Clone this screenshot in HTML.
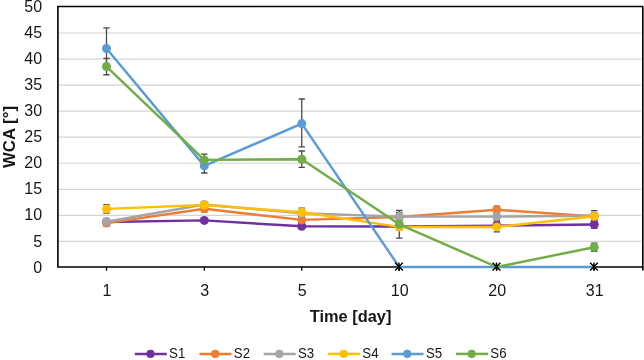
<!DOCTYPE html><html><head><meta charset="utf-8"><style>html,body{margin:0;padding:0;background:#fff}svg{display:block;opacity:.999;will-change:transform}text{font-family:"Liberation Sans",sans-serif;fill:#161616}</style></head><body>
<svg width="644" height="360" viewBox="0 0 644 360">
<rect width="644" height="360" fill="#fff"/>
<line x1="58" y1="241.4" x2="641" y2="241.4" stroke="#D4D4D4" stroke-width="1.2"/>
<line x1="58" y1="215.35" x2="641" y2="215.35" stroke="#D4D4D4" stroke-width="1.2"/>
<line x1="58" y1="189.3" x2="641" y2="189.3" stroke="#D4D4D4" stroke-width="1.2"/>
<line x1="58" y1="163.25" x2="641" y2="163.25" stroke="#D4D4D4" stroke-width="1.2"/>
<line x1="58" y1="137.2" x2="641" y2="137.2" stroke="#D4D4D4" stroke-width="1.2"/>
<line x1="58" y1="111.15" x2="641" y2="111.15" stroke="#D4D4D4" stroke-width="1.2"/>
<line x1="58" y1="85.1" x2="641" y2="85.1" stroke="#D4D4D4" stroke-width="1.2"/>
<line x1="58" y1="59.05" x2="641" y2="59.05" stroke="#D4D4D4" stroke-width="1.2"/>
<line x1="58" y1="33.0" x2="641" y2="33.0" stroke="#D4D4D4" stroke-width="1.2"/>
<path d="M57.9 267.0 V6.5 H642.8 V270.4" fill="none" stroke="#000" stroke-width="1.6"/>
<line x1="57.2" y1="267.0" x2="643.3" y2="267.0" stroke="#000" stroke-width="1.6"/>
<line x1="106.5" y1="267.0" x2="106.5" y2="270.8" stroke="#000" stroke-width="1.3"/>
<line x1="204.3" y1="267.0" x2="204.3" y2="270.8" stroke="#000" stroke-width="1.3"/>
<line x1="301.75" y1="267.0" x2="301.75" y2="270.8" stroke="#000" stroke-width="1.3"/>
<line x1="399.25" y1="267.0" x2="399.25" y2="270.8" stroke="#000" stroke-width="1.3"/>
<line x1="496.8" y1="267.0" x2="496.8" y2="270.8" stroke="#000" stroke-width="1.3"/>
<line x1="594.25" y1="267.0" x2="594.25" y2="270.8" stroke="#000" stroke-width="1.3"/>
<path d="M106.5 219.4 V224.6 M103.3 219.4 H109.7 M103.3 224.6 H109.7" fill="none" stroke="#4a4a4a" stroke-width="1.3"/>
<path d="M204.3 218.2 V222.6 M201.10000000000002 218.2 H207.5 M201.10000000000002 222.6 H207.5" fill="none" stroke="#4a4a4a" stroke-width="1.3"/>
<path d="M301.75 223.7 V228.9 M298.55 223.7 H304.95 M298.55 228.9 H304.95" fill="none" stroke="#4a4a4a" stroke-width="1.3"/>
<path d="M399.25 223.8 V229.0 M396.05 223.8 H402.45 M396.05 229.0 H402.45" fill="none" stroke="#4a4a4a" stroke-width="1.3"/>
<path d="M496.8 222.6 V228.6 M493.6 222.6 H500.0 M493.6 228.6 H500.0" fill="none" stroke="#4a4a4a" stroke-width="1.3"/>
<path d="M594.25 220.7 V228.3 M591.05 220.7 H597.45 M591.05 228.3 H597.45" fill="none" stroke="#4a4a4a" stroke-width="1.3"/>
<path d="M106.5 220.1 V226.1 M103.3 220.1 H109.7 M103.3 226.1 H109.7" fill="none" stroke="#4a4a4a" stroke-width="1.3"/>
<path d="M204.3 205.8 V211.8 M201.10000000000002 205.8 H207.5 M201.10000000000002 211.8 H207.5" fill="none" stroke="#4a4a4a" stroke-width="1.3"/>
<path d="M301.75 216.9 V222.9 M298.55 216.9 H304.95 M298.55 222.9 H304.95" fill="none" stroke="#4a4a4a" stroke-width="1.3"/>
<path d="M399.25 214.0 V220.0 M396.05 214.0 H402.45 M396.05 220.0 H402.45" fill="none" stroke="#4a4a4a" stroke-width="1.3"/>
<path d="M496.8 206.2 V213.4 M493.6 206.2 H500.0 M493.6 213.4 H500.0" fill="none" stroke="#4a4a4a" stroke-width="1.3"/>
<path d="M594.25 213.4 V219.4 M591.05 213.4 H597.45 M591.05 219.4 H597.45" fill="none" stroke="#4a4a4a" stroke-width="1.3"/>
<path d="M106.5 219.1 V224.3 M103.3 219.1 H109.7 M103.3 224.3 H109.7" fill="none" stroke="#4a4a4a" stroke-width="1.3"/>
<path d="M204.3 201.9 V207.1 M201.10000000000002 201.9 H207.5 M201.10000000000002 207.1 H207.5" fill="none" stroke="#4a4a4a" stroke-width="1.3"/>
<path d="M301.75 210.3 V216.3 M298.55 210.3 H304.95 M298.55 216.3 H304.95" fill="none" stroke="#4a4a4a" stroke-width="1.3"/>
<path d="M399.25 212.3 V220.9 M396.05 212.3 H402.45 M396.05 220.9 H402.45" fill="none" stroke="#4a4a4a" stroke-width="1.3"/>
<path d="M496.8 213.0 V220.2 M493.6 213.0 H500.0 M493.6 220.2 H500.0" fill="none" stroke="#4a4a4a" stroke-width="1.3"/>
<path d="M594.25 210.7 V220.7 M591.05 210.7 H597.45 M591.05 220.7 H597.45" fill="none" stroke="#4a4a4a" stroke-width="1.3"/>
<path d="M106.5 204.7 V213.1 M103.3 204.7 H109.7 M103.3 213.1 H109.7" fill="none" stroke="#4a4a4a" stroke-width="1.3"/>
<path d="M204.3 202.4 V207.6 M201.10000000000002 202.4 H207.5 M201.10000000000002 207.6 H207.5" fill="none" stroke="#4a4a4a" stroke-width="1.3"/>
<path d="M301.75 208.1 V216.5 M298.55 208.1 H304.95 M298.55 216.5 H304.95" fill="none" stroke="#4a4a4a" stroke-width="1.3"/>
<path d="M399.25 223.9 V229.9 M396.05 223.9 H402.45 M396.05 229.9 H402.45" fill="none" stroke="#4a4a4a" stroke-width="1.3"/>
<path d="M496.8 221.9 V231.9 M493.6 221.9 H500.0 M493.6 231.9 H500.0" fill="none" stroke="#4a4a4a" stroke-width="1.3"/>
<path d="M594.25 213.2 V219.2 M591.05 213.2 H597.45 M591.05 219.2 H597.45" fill="none" stroke="#4a4a4a" stroke-width="1.3"/>
<path d="M106.5 27.85 V69.05 M103.3 27.85 H109.7 M103.3 69.05 H109.7" fill="none" stroke="#4a4a4a" stroke-width="1.3"/>
<path d="M204.3 158.8 V173.0 M201.10000000000002 158.8 H207.5 M201.10000000000002 173.0 H207.5" fill="none" stroke="#4a4a4a" stroke-width="1.3"/>
<path d="M301.75 99.0 V146.9 M298.55 99.0 H304.95 M298.55 146.9 H304.95" fill="none" stroke="#4a4a4a" stroke-width="1.3"/>
<path d="M106.5 58.35 V74.75 M103.3 58.35 H109.7 M103.3 74.75 H109.7" fill="none" stroke="#4a4a4a" stroke-width="1.3"/>
<path d="M204.3 154.2 V165.6 M201.10000000000002 154.2 H207.5 M201.10000000000002 165.6 H207.5" fill="none" stroke="#4a4a4a" stroke-width="1.3"/>
<path d="M301.75 151.0 V167.4 M298.55 151.0 H304.95 M298.55 167.4 H304.95" fill="none" stroke="#4a4a4a" stroke-width="1.3"/>
<path d="M399.25 210.4 V238.2 M396.05 210.4 H402.45 M396.05 238.2 H402.45" fill="none" stroke="#4a4a4a" stroke-width="1.3"/>
<path d="M594.25 243.1 V251.3 M591.05 243.1 H597.45 M591.05 251.3 H597.45" fill="none" stroke="#4a4a4a" stroke-width="1.3"/>
<polyline points="106.5,222.0 204.3,220.4 301.75,226.3 399.25,226.4 496.8,225.6 594.25,224.5" fill="none" stroke="#7030A0" stroke-width="2.45" stroke-linejoin="round" stroke-linecap="round"/>
<circle cx="106.5" cy="222.0" r="4.5" fill="#7030A0"/>
<circle cx="204.3" cy="220.4" r="4.5" fill="#7030A0"/>
<circle cx="301.75" cy="226.3" r="4.5" fill="#7030A0"/>
<circle cx="399.25" cy="226.4" r="4.5" fill="#7030A0"/>
<circle cx="496.8" cy="225.6" r="4.5" fill="#7030A0"/>
<circle cx="594.25" cy="224.5" r="4.5" fill="#7030A0"/>
<polyline points="106.5,223.1 204.3,208.8 301.75,219.9 399.25,217.0 496.8,209.8 594.25,216.4" fill="none" stroke="#ED7D31" stroke-width="2.45" stroke-linejoin="round" stroke-linecap="round"/>
<circle cx="106.5" cy="223.1" r="4.5" fill="#ED7D31"/>
<circle cx="204.3" cy="208.8" r="4.5" fill="#ED7D31"/>
<circle cx="301.75" cy="219.9" r="4.5" fill="#ED7D31"/>
<circle cx="399.25" cy="217.0" r="4.5" fill="#ED7D31"/>
<circle cx="496.8" cy="209.8" r="4.5" fill="#ED7D31"/>
<circle cx="594.25" cy="216.4" r="4.5" fill="#ED7D31"/>
<polyline points="106.5,221.7 204.3,204.5 301.75,213.3 399.25,216.6 496.8,216.6 594.25,215.7" fill="none" stroke="#A5A5A5" stroke-width="2.45" stroke-linejoin="round" stroke-linecap="round"/>
<circle cx="106.5" cy="221.7" r="4.5" fill="#A5A5A5"/>
<circle cx="204.3" cy="204.5" r="4.5" fill="#A5A5A5"/>
<circle cx="301.75" cy="213.3" r="4.5" fill="#A5A5A5"/>
<circle cx="399.25" cy="216.6" r="4.5" fill="#A5A5A5"/>
<circle cx="496.8" cy="216.6" r="4.5" fill="#A5A5A5"/>
<circle cx="594.25" cy="215.7" r="4.5" fill="#A5A5A5"/>
<polyline points="106.5,208.9 204.3,205.0 301.75,212.3 399.25,226.9 496.8,226.9 594.25,216.2" fill="none" stroke="#FFC000" stroke-width="2.45" stroke-linejoin="round" stroke-linecap="round"/>
<circle cx="106.5" cy="208.9" r="4.5" fill="#FFC000"/>
<circle cx="204.3" cy="205.0" r="4.5" fill="#FFC000"/>
<circle cx="301.75" cy="212.3" r="4.5" fill="#FFC000"/>
<circle cx="399.25" cy="226.9" r="4.5" fill="#FFC000"/>
<circle cx="496.8" cy="226.9" r="4.5" fill="#FFC000"/>
<circle cx="594.25" cy="216.2" r="4.5" fill="#FFC000"/>
<polyline points="106.5,48.45 204.3,165.9 301.75,123.6 399.25,267.0 496.8,267.0 594.25,267.0" fill="none" stroke="#5B9BD5" stroke-width="2.45" stroke-linejoin="round" stroke-linecap="round"/>
<circle cx="106.5" cy="48.45" r="4.5" fill="#5B9BD5"/>
<circle cx="204.3" cy="165.9" r="4.5" fill="#5B9BD5"/>
<circle cx="301.75" cy="123.6" r="4.5" fill="#5B9BD5"/>
<polyline points="106.5,66.55 204.3,159.9 301.75,159.2 399.25,224.3 496.8,267.0 594.25,247.2" fill="none" stroke="#70AD47" stroke-width="2.45" stroke-linejoin="round" stroke-linecap="round"/>
<circle cx="106.5" cy="66.55" r="4.5" fill="#70AD47"/>
<circle cx="204.3" cy="159.9" r="4.5" fill="#70AD47"/>
<circle cx="301.75" cy="159.2" r="4.5" fill="#70AD47"/>
<circle cx="399.25" cy="224.3" r="4.5" fill="#70AD47"/>
<circle cx="594.25" cy="247.2" r="4.5" fill="#70AD47"/>
<path d="M395.05 262.8 L402.84999999999997 270.59999999999997 M395.05 270.59999999999997 L402.84999999999997 262.8 M398.95 262.6 V270.79999999999995" fill="none" stroke="#000" stroke-width="1.4"/>
<path d="M492.6 262.8 L500.4 270.59999999999997 M492.6 270.59999999999997 L500.4 262.8 M496.5 262.6 V270.79999999999995" fill="none" stroke="#000" stroke-width="1.4"/>
<path d="M590.0500000000001 262.8 L597.85 270.59999999999997 M590.0500000000001 270.59999999999997 L597.85 262.8 M593.95 262.6 V270.79999999999995" fill="none" stroke="#000" stroke-width="1.4"/>
<text x="42.1" y="272.6" font-size="16" text-anchor="end">0</text>
<text x="42.1" y="246.54" font-size="16" text-anchor="end">5</text>
<text x="42.1" y="220.48" font-size="16" text-anchor="end">10</text>
<text x="42.1" y="194.42" font-size="16" text-anchor="end">15</text>
<text x="42.1" y="168.36" font-size="16" text-anchor="end">20</text>
<text x="42.1" y="142.3" font-size="16" text-anchor="end">25</text>
<text x="42.1" y="116.24" font-size="16" text-anchor="end">30</text>
<text x="42.1" y="90.18" font-size="16" text-anchor="end">35</text>
<text x="42.1" y="64.12" font-size="16" text-anchor="end">40</text>
<text x="42.1" y="38.06" font-size="16" text-anchor="end">45</text>
<text x="42.1" y="12.0" font-size="16" text-anchor="end">50</text>
<text x="106.9" y="295.7" font-size="16" text-anchor="middle">1</text>
<text x="204.70000000000002" y="295.7" font-size="16" text-anchor="middle">3</text>
<text x="302.15" y="295.7" font-size="16" text-anchor="middle">5</text>
<text x="399.65" y="295.7" font-size="16" text-anchor="middle">10</text>
<text x="497.2" y="295.7" font-size="16" text-anchor="middle">20</text>
<text x="594.65" y="295.7" font-size="16" text-anchor="middle">31</text>
<text x="350.6" y="322.3" font-size="16" font-weight="bold" text-anchor="middle" textLength="81.5" lengthAdjust="spacingAndGlyphs">Time [day]</text>
<text transform="translate(14.5,137) rotate(-90)" font-size="16" font-weight="bold" text-anchor="middle" textLength="62" lengthAdjust="spacingAndGlyphs">WCA [°]</text>
<line x1="134.8" y1="353.9" x2="166.8" y2="353.9" stroke="#7030A0" stroke-width="2.45"/>
<circle cx="150.5" cy="353.9" r="4.1" fill="#7030A0"/>
<text x="169.1" y="358.3" font-size="15.5" textLength="16.2" lengthAdjust="spacingAndGlyphs">S1</text>
<line x1="199.5" y1="353.9" x2="231.5" y2="353.9" stroke="#ED7D31" stroke-width="2.45"/>
<circle cx="215.2" cy="353.9" r="4.1" fill="#ED7D31"/>
<text x="233.79999999999998" y="358.3" font-size="15.5" textLength="16.2" lengthAdjust="spacingAndGlyphs">S2</text>
<line x1="263.7" y1="353.9" x2="295.7" y2="353.9" stroke="#A5A5A5" stroke-width="2.45"/>
<circle cx="279.4" cy="353.9" r="4.1" fill="#A5A5A5"/>
<text x="298.0" y="358.3" font-size="15.5" textLength="16.2" lengthAdjust="spacingAndGlyphs">S3</text>
<line x1="328.0" y1="353.9" x2="360.0" y2="353.9" stroke="#FFC000" stroke-width="2.45"/>
<circle cx="343.7" cy="353.9" r="4.1" fill="#FFC000"/>
<text x="362.3" y="358.3" font-size="15.5" textLength="16.2" lengthAdjust="spacingAndGlyphs">S4</text>
<line x1="391.6" y1="353.9" x2="423.6" y2="353.9" stroke="#5B9BD5" stroke-width="2.45"/>
<circle cx="407.3" cy="353.9" r="4.1" fill="#5B9BD5"/>
<text x="425.90000000000003" y="358.3" font-size="15.5" textLength="16.2" lengthAdjust="spacingAndGlyphs">S5</text>
<line x1="456.0" y1="353.9" x2="488.0" y2="353.9" stroke="#70AD47" stroke-width="2.45"/>
<circle cx="471.7" cy="353.9" r="4.1" fill="#70AD47"/>
<text x="490.3" y="358.3" font-size="15.5" textLength="16.2" lengthAdjust="spacingAndGlyphs">S6</text>
</svg></body></html>
